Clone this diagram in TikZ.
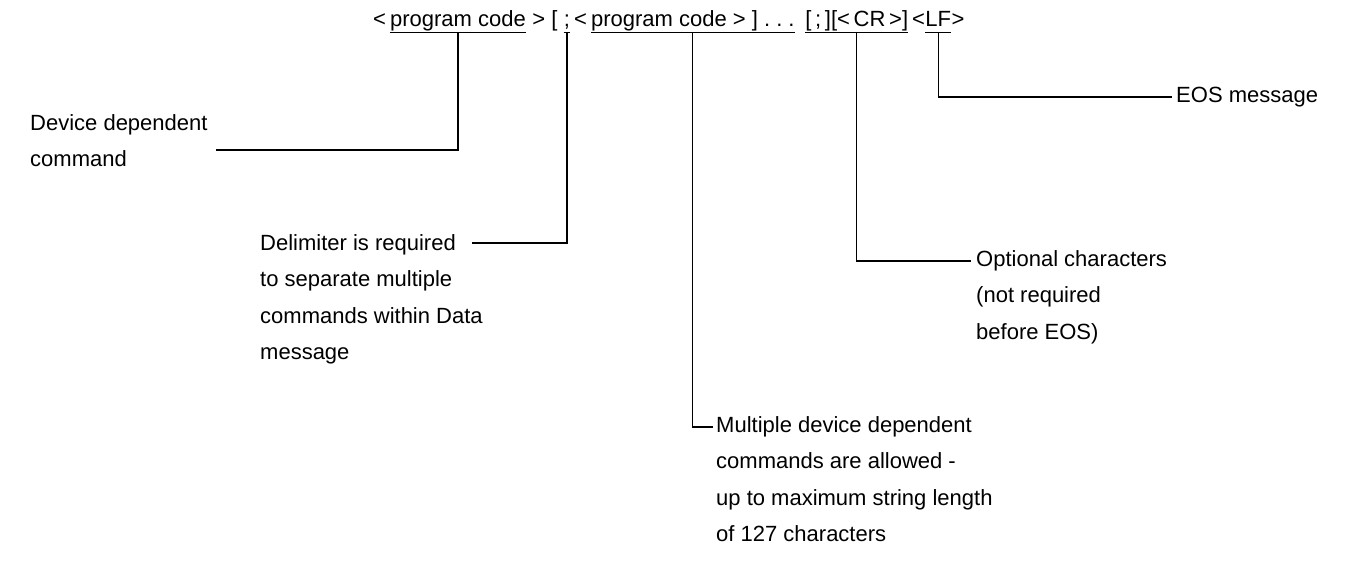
\documentclass[tikz,border=0pt]{standalone}
\usepackage{fontspec}
\setmainfont{Liberation Sans}
\usepackage{tikz}
\usetikzlibrary{positioning}
\tikzset{
  % top line pieces
  tok/.style={inner sep=0pt, anchor=base west, text height=16pt, text depth=6pt, font=\fontsize{22}{26}\selectfont},
  % notes under the line
  note/.style={inner sep=0pt, anchor=north west, align=left, font=\fontsize{22}{36.5}\selectfont},
  uline/.style={line width=1.3pt},
  lead/.style={line width=1.3pt},
}

\begin{document}
\begin{tikzpicture}[x=1pt, y=-1pt]
    \useasboundingbox (0,0) rectangle (1354,568);

    % Message syntax
    \node[tok] (lt1) at (373,26) {<\,};
    \node[tok] (pc1) at (lt1.base east) {program code};
    \node[tok] (gt1) at (pc1.base east) {\;>\;[\;};
    \node[tok] (sc1) at (gt1.base east) {;};
    \node[tok] (lt2) at (sc1.base east) {\,<\,};
    \node[tok] (pc2) at (lt2.base east) {program code\;>\;]\;.\;.\;.};
    \node[tok, minimum width=10pt] (gap) at (pc2.base east) {};
    \node[tok] (opt) at (gap.base east) {[\,;\,][<\,CR\,>]};
    \node[tok] (lt3) at (opt.base east) {\,<};
    \node[tok] (lf) at (lt3.base east) {LF};
    \node[tok] (gt3) at (lf.base east) {>};

    % Underlines
    \foreach \n in {pc1, sc1, pc2, opt, lf}
      \draw[uline] (\n.south west) -- (\n.south east);

    % Notes
    \node[note] (dev) at (30,114) {Device dependent\\command};
    \node[note] (delim) at (260,234) {Delimiter is required\\to separate multiple\\commands within Data\\message};
    \node[note] (multi) at (716,416) {Multiple device dependent\\commands are allowed -\\up to maximum string length\\of 127 characters};
    \node[note] (optc) at (976,250) {Optional characters\\(not required\\before EOS)};
    \node[note] (eos) at (1176,87) {EOS message};

    % Leader ends
    \coordinate (devend) at (216,150);
    \coordinate (delimend) at (472,243);
    \coordinate (multiend) at (713,427);
    \coordinate (optend) at (971,261);
    \coordinate (eosend) at (1172,97);

    % Leaders
    \draw[lead] (pc1.south) |- (devend);
    \draw[lead] (sc1.south) |- (delimend);
    \draw[lead] (pc2.south) |- (multiend);
    \draw[lead] (opt.south) |- (optend);
    \draw[lead] (lf.south) |- (eosend);
\end{tikzpicture}
\end{document}
